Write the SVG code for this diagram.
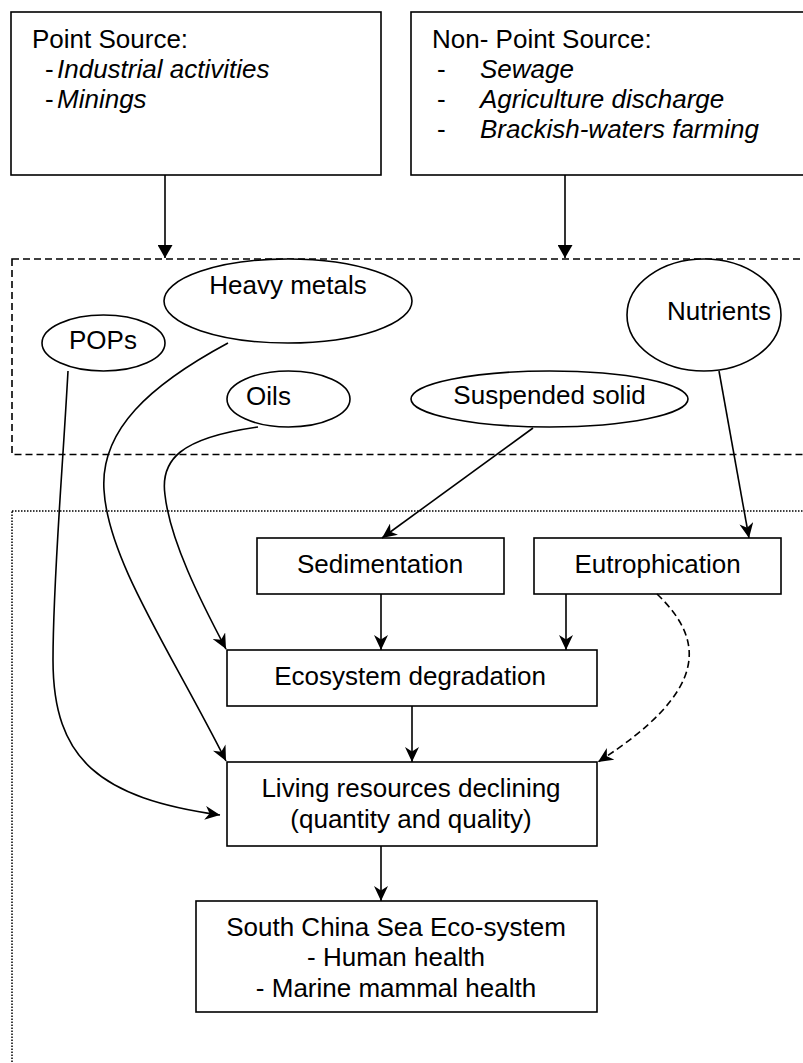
<svg xmlns="http://www.w3.org/2000/svg" width="803" height="1063" viewBox="0 0 803 1063">
<style>
  .bx{fill:#fff;stroke:#000;stroke-width:1.6}
  .el{fill:#fff;stroke:#000;stroke-width:1.6}
  .t{font-family:"Liberation Sans",Arial,sans-serif;font-size:26px;fill:#000}
  .m{text-anchor:middle}
  .i{font-style:italic}
  .c{fill:none;stroke:#000;stroke-width:1.6}
  .dash{fill:none;stroke:#000;stroke-width:1.6;stroke-dasharray:7,4}
  .dot{fill:none;stroke:#000;stroke-width:1.5;stroke-dasharray:1.5,1.5}
</style>
<defs>
  <marker id="blk" markerUnits="userSpaceOnUse" viewBox="0 0 13 15" refX="13" refY="7.5" markerWidth="13" markerHeight="15" orient="auto">
    <path d="M0,0 L13,7.5 L0,15 Z" fill="#000"/>
  </marker>
  <marker id="cls" markerUnits="userSpaceOnUse" viewBox="0 0 15 14" refX="15" refY="7" markerWidth="15" markerHeight="14" orient="auto">
    <path d="M0,0 L15,7 L0,14 L4.5,7 Z" fill="#000"/>
  </marker>
</defs>
<rect width="803" height="1063" fill="#fff"/>

<g id="regions">
  <rect x="12" y="259" width="820" height="195.5" class="dash"/>
  <rect x="12" y="511" width="820" height="600" class="dot"/>
</g>

<g id="point-source">
  <rect x="11" y="12" width="370" height="163" class="bx"/>
  <text class="t" x="32" y="48">Point Source:</text>
  <text class="t" x="45" y="78">-</text><text class="t i" x="57" y="78">Industrial activities</text>
  <text class="t" x="45" y="108">-</text><text class="t i" x="57" y="108">Minings</text>
</g>

<g id="non-point-source">
  <rect x="411" y="12" width="410" height="163" class="bx"/>
  <text class="t" x="432" y="48">Non- Point Source:</text>
  <text class="t" x="437" y="78">-</text><text class="t i" x="480" y="78">Sewage</text>
  <text class="t" x="437" y="108">-</text><text class="t i" x="480" y="108">Agriculture discharge</text>
  <text class="t" x="437" y="138">-</text><text class="t i" x="480" y="138">Brackish-waters farming</text>
</g>

<g id="heavy-metals">
  <ellipse cx="288" cy="301" rx="124" ry="42" class="el"/>
  <text class="t m" x="288" y="294">Heavy metals</text>
</g>
<g id="pops">
  <ellipse cx="103.5" cy="343" rx="61.5" ry="28" class="el"/>
  <text class="t m" x="103" y="349">POPs</text>
</g>
<g id="oils">
  <ellipse cx="288.5" cy="399" rx="61.5" ry="28" class="el"/>
  <text class="t m" x="268.5" y="405">Oils</text>
</g>
<g id="nutrients">
  <ellipse cx="704" cy="315" rx="77" ry="56" class="el"/>
  <text class="t m" x="719" y="320">Nutrients</text>
</g>
<g id="suspended-solid">
  <ellipse cx="549.5" cy="399" rx="138.5" ry="28" class="el"/>
  <text class="t m" x="549.5" y="404">Suspended solid</text>
</g>

<g id="sedimentation">
  <rect x="257" y="538" width="247" height="56" class="bx"/>
  <text class="t m" x="380" y="573">Sedimentation</text>
</g>
<g id="eutrophication">
  <rect x="534" y="538" width="247" height="56" class="bx"/>
  <text class="t m" x="657.5" y="573">Eutrophication</text>
</g>
<g id="ecosystem-degradation">
  <rect x="227" y="650" width="370" height="56" class="bx"/>
  <text class="t m" x="410" y="685">Ecosystem degradation</text>
</g>
<g id="living-resources">
  <rect x="227" y="762" width="370" height="84" class="bx"/>
  <text class="t m" x="411" y="797">Living resources declining</text>
  <text class="t m" x="411" y="828">(quantity and quality)</text>
</g>
<g id="south-china-sea">
  <rect x="196" y="901" width="401" height="111" class="bx"/>
  <text class="t m" x="396" y="936">South China Sea Eco-system</text>
  <text class="t m" x="396" y="966">- Human health</text>
  <text class="t m" x="396" y="997">- Marine mammal health</text>
</g>

<g id="connectors">
  <path d="M165,175 L165,258" class="c" marker-end="url(#blk)"/>
  <path d="M565,175 L565,258" class="c" marker-end="url(#blk)"/>
  <path d="M533,428 L382,538" class="c" marker-end="url(#cls)"/>
  <path d="M719,371 L749,538" class="c" marker-end="url(#cls)"/>
  <path d="M381,594 L381,650" class="c" marker-end="url(#cls)"/>
  <path d="M566,594 L566,650" class="c" marker-end="url(#cls)"/>
  <path d="M412,706 L412,762" class="c" marker-end="url(#cls)"/>
  <path d="M381,846 L381,901" class="c" marker-end="url(#cls)"/>
  <path d="M657,594 C705,640 710,690 598,762" class="dash" stroke-dasharray="6,4" marker-end="url(#cls)"/>
  <path d="M68,371 C62,480 53,580 53,660 C53,760 100,798 220,815" class="c" marker-end="url(#cls)"/>
  <path d="M228,343 C150,385 100,430 104,490 C108,560 170,650 226,761" class="c" marker-end="url(#cls)"/>
  <path d="M258,427 C180,438 160,460 165,495 C170,540 200,600 226,649" class="c" marker-end="url(#cls)"/>
</g>
</svg>
